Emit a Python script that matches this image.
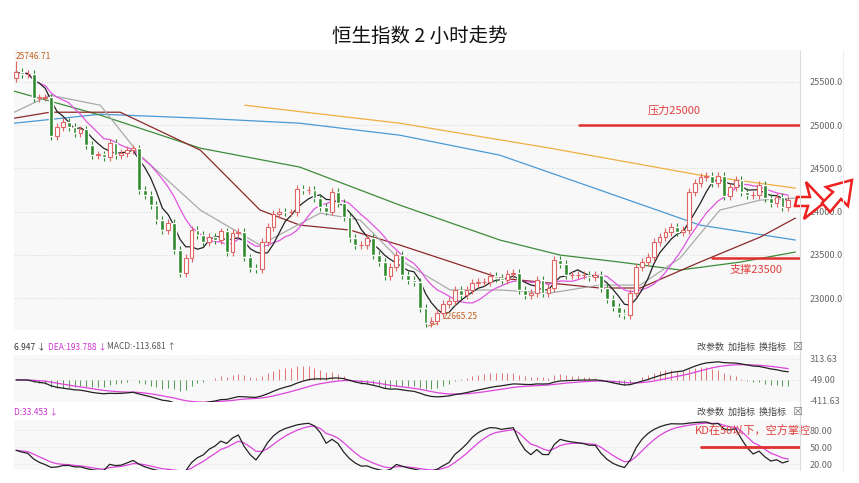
import numpy as np, pandas as pd, seaborn as sns, matplotlib
matplotlib.use("Agg")
import matplotlib.pyplot as plt
from matplotlib.patches import Polygon

sns.set_style("white")
plt.rcParams['font.family'] = ['Noto Sans CJK SC', 'DejaVu Sans']

closes = [25613, 25590, 25590, 25310, 25320, 25320, 24870, 24980, 25035, 24980, 24910, 24950, 24770, 24650, 24660, 24630, 24790, 24650, 24675, 24710, 24730, 24250, 24190, 24075, 23900, 23790, 23870, 23555, 23290, 23460, 23790, 23730, 23650, 23710, 23670, 23770, 23530, 23750, 23760, 23470, 23350, 23335, 23650, 23820, 23970, 24000, 23990, 23990,
          24260, 24250, 24250, 24155, 24050, 24000, 24225, 24100, 23940, 23695, 23615, 23615, 23695, 23500, 23415, 23255, 23360, 23500, 23265, 23210, 23185, 22885, 22710, 22735, 22825, 22930, 22965, 23090, 23035, 23090, 23170, 23185, 23185, 23255, 23230, 23210, 23280, 23290, 23090, 23035, 23060, 23210, 23060, 23115, 23440, 23395, 23265, 23265, 23265, 23265, 23240, 23265,
          23115, 22990, 22900, 22830, 22805, 23060, 23360, 23415, 23475, 23650, 23710, 23760, 23820, 23760, 23790, 24225, 24330, 24400, 24410, 24330, 24410, 24180, 24285, 24365, 24225, 24190, 24190, 24305, 24155, 24100, 24170, 24050, 24135]
first_open = 25550
max_label = 25746.71
min_label = 22665.25

# longer moving averages (x index, value)
yellow_x = [39.1, 65.6, 91.3, 116.9, 133.2]
yellow_v = [25231, 25023, 24734, 24422, 24272]
blue_x = [-0.3, 14.4, 31.5, 48.5, 65.6, 82.7, 99.8, 116.9, 133.2]
blue_v = [25023, 25127, 25081, 25023, 24884, 24653, 24249, 23844, 23671]
green_x = [-0.3, 14.4, 31.5, 48.5, 65.6, 82.7, 93.0, 103.2, 113.5, 123.8, 133.2]
green_v = [25393, 25116, 24734, 24515, 24075, 23671, 23497, 23416, 23324, 23416, 23532]
maroon_x = [-0.3, 5.8, 17.8, 31.5, 41.7, 48.5, 57.1, 65.6, 82.7, 91.3, 99.8, 106.7, 116.9, 127.2, 133.2]
maroon_v = [25081, 25150, 25150, 24711, 24018, 23844, 23786, 23613, 23231, 23173, 23116, 23116, 23416, 23705, 23925]
grey_x = [-0.3, 5.8, 14.4, 21.2, 31.5, 41.7, 52.0, 58.8, 65.6, 74.2, 82.7, 91.3, 99.8, 106.7, 113.5, 120.3, 127.2, 133.2]
grey_v = [25150, 25347, 25231, 24653, 24018, 23613, 23983, 23902, 23440, 23093, 23093, 23058, 23150, 23150, 23462, 24018, 24133, 24156]

c = np.array(closes, float)
n = len(c)
o = np.r_[first_open, c[:-1]]
hi = np.maximum(o, c) + 45
lo = np.minimum(o, c) - 45
hi[0] = max_label
lo[70] = min_label
idx = np.arange(n)
df = pd.DataFrame({"i": idx, "c": c})
df["ma5"] = df.c.rolling(5, min_periods=1).mean()
df["ma10"] = df.c.rolling(10, min_periods=1).mean()

e12 = df.c.ewm(span=12, adjust=False).mean(); e26 = df.c.ewm(span=26, adjust=False).mean()
dif = e12 - e26; dea = dif.ewm(span=9, adjust=False).mean(); hist = 2 * (dif - dea)
ll = pd.Series(lo).rolling(9, min_periods=1).min(); hh = pd.Series(hi).rolling(9, min_periods=1).max()
rsv = (df.c - ll) / (hh - ll) * 100
K = rsv.ewm(alpha=1/3, adjust=False).mean(); D = K.ewm(alpha=1/3, adjust=False).mean()

W, H = 859, 483
fig = plt.figure(figsize=(8.59, 4.83), dpi=100)
def ax_at(l, t, r, b):
    return fig.add_axes([l/W, 1-b/H, (r-l)/W, (b-t)/H])
ax = ax_at(14, 50, 800, 330)
axm = ax_at(14, 355, 800, 402)
axk = ax_at(14, 420, 800, 470)
for a in (ax, axm, axk):
    a.set_facecolor('#f8f8f8')
    for s in a.spines.values(): s.set_visible(False)
    a.set_xlim(-0.35, 134)
    a.set_xticks([])
    a.yaxis.tick_right()
    a.tick_params(axis='y', length=0, labelsize=6.5, labelcolor='#666666', pad=7)
fig.add_artist(plt.Line2D([800/W]*2, [1-50/H, 1-470/H], color='#dddddd', lw=0.8))
fig.add_artist(plt.Line2D([843/W]*2, [1-50/H, 1-470/H], color='#eeeeee', lw=0.8))

ax.set_ylim(22630, 25870)
ax.set_yticks([23000, 23500, 24000, 24500, 25000, 25500])
ax.set_yticklabels(['23000.0', '23500.0', '24000.0', '24500.0', '25000.0', '25500.0'])
for y in [23000, 23500, 24000, 24500, 25000, 25500]:
    ax.axhline(y, color='#cccccc', lw=0.6, ls=(0, (1, 2)))
up = c >= o
ax.vlines(idx, lo, hi, color=np.where(up, '#e06666', '#2e8b2e'), lw=0.8, zorder=3)
ax.bar(idx[up], (c - o)[up] + 1, bottom=o[up], width=0.65, facecolor='white', edgecolor='#e06666', lw=0.8, zorder=4)
ax.bar(idx[~up], (o - c)[~up] + 1, bottom=c[~up], width=0.65, color='#2e8b2e', zorder=4)
sns.lineplot(x=yellow_x, y=yellow_v, ax=ax, color='#f0b040', lw=0.9)
sns.lineplot(x=blue_x, y=blue_v, ax=ax, color='#4a9ad4', lw=0.9)
sns.lineplot(x=green_x, y=green_v, ax=ax, color='#3c8c3c', lw=0.9)
sns.lineplot(x=maroon_x, y=maroon_v, ax=ax, color='#8b2a2a', lw=0.9)
sns.lineplot(x=grey_x, y=grey_v, ax=ax, color='#aaaaaa', lw=0.9)
sns.lineplot(data=df, x='i', y='ma10', ax=ax, color='#e055e0', lw=0.9)
sns.lineplot(data=df, x='i', y='ma5', ax=ax, color='#222222', lw=0.9)
ax.set_xlabel(''); ax.set_ylabel('')
ax.text(0, max_label, '25746.71', color='#c06020', fontsize=6, va='bottom', ha='left')
ax.annotate('22665.25', xy=(70, min_label), xytext=(73, 22760), color='#c06020', fontsize=6,
            arrowprops=dict(arrowstyle='-', color='#c06020', lw=0.6))
ax.plot([96.2, 134], [25000, 25000], color='#e03030', lw=1.8, zorder=6)
ax.text(108, 25130, '压力25000', color='#e04040', fontsize=8)
ax.plot([118.9, 134], [23460, 23460], color='#e03030', lw=1.8, zorder=6)
ax.text(122, 23290, '支撑23500', color='#e04040', fontsize=8, ha='left')

def px(pts):
    return [(x/W, 1-y/H) for x, y in pts]
fig.add_artist(Polygon(px([(797, 197), (810, 197), (806, 182), (825, 202), (804, 219), (808, 206), (795, 206)]),
                       closed=True, fc='white', ec='#ee2020', lw=1.8))
fig.add_artist(Polygon(px([(822, 203), (833, 192), (826, 187), (852, 180), (848, 206), (841, 199), (830, 212)]),
                       closed=True, fc='white', ec='#ee2020', lw=1.8))

axm.set_ylim(-430, 380)
axm.set_yticks([313.63, -49, -411.63]); axm.set_yticklabels(['313.63', '-49.00', '-411.63'])
for y in [313.63, -49]:
    axm.axhline(y, color='#dddddd', lw=0.6, ls=(0, (1, 2)))
axm.vlines(idx, -49, -49 + hist, color=np.where(hist >= 0, '#e06060', '#3a8a3a'), lw=0.6)
sns.lineplot(x=idx, y=dea - 49, ax=axm, color='#dd44dd', lw=0.9)
sns.lineplot(x=idx, y=dif - 49, ax=axm, color='#222222', lw=0.9)
fig.text(14/W, 1-347/H, '6.947 ↓ ', fontsize=6, color='#333333', va='center')
fig.text(48/W, 1-347/H, 'DEA:193.788 ↓', fontsize=6, color='#cc33cc', va='center')
fig.text(107/W, 1-347/H, 'MACD:-113.681 ↑', fontsize=6, color='#555555', va='center')
fig.text(14/W, 1-412/H, 'D:33.453 ↓', fontsize=6, color='#cc33cc', va='center')
for yy in (347, 412):
    fig.text(697/W, 1-yy/H, '改参数  加指标  换指标', fontsize=6.5, color='#444444', va='center')
    fig.text(797/W, 1-yy/H, '☒', fontsize=8, color='#777777', va='center', ha='center')

axk.set_ylim(10, 98)
axk.set_yticks([20, 50, 80]); axk.set_yticklabels(['20.00', '50.00', '80.00'])
for y in [20, 50, 80]:
    axk.axhline(y, color='#dddddd', lw=0.6, ls=(0, (1, 2)))
sns.lineplot(x=idx, y=D, ax=axk, color='#dd44dd', lw=0.9)
sns.lineplot(x=idx, y=K, ax=axk, color='#222222', lw=0.9)
axk.plot([117, 134], [50, 50], color='#e03030', lw=2)
axk.text(116, 72, 'KD在50以下，空方掌控', color='#e04040', fontsize=8)
for a in (axm, axk):
    a.set_xlabel(''); a.set_ylabel('')

fig.text(420/W, 1-36/H, '恒生指数 2 小时走势', fontsize=14, ha='center', va='center', color='#111111')
fig.savefig('out.png', dpi=100)
